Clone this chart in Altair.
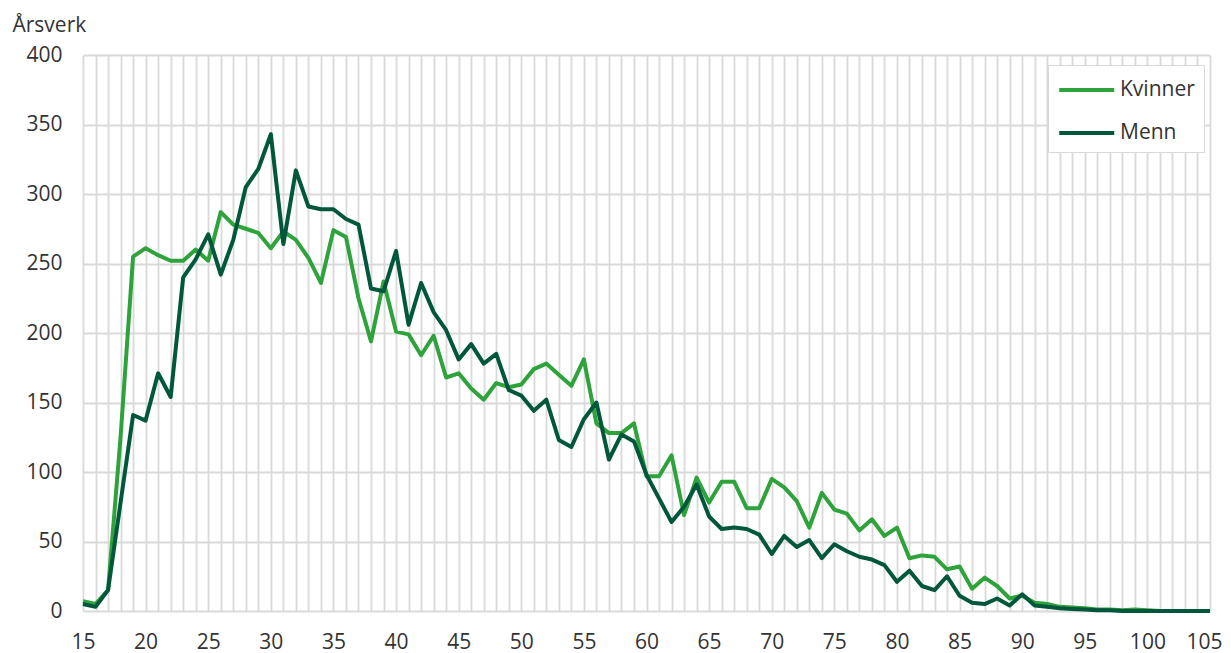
import altair as alt
import pandas as pd

ages = list(range(15, 106))

kvinner = [7, 5, 15, 125, 255, 261, 256, 252, 252, 260,
           252, 287, 278, 275, 272, 261, 273, 267, 254, 236,
           274, 269, 225, 194, 237, 201, 199, 184, 198, 168,
           171, 160, 152, 164, 161, 163, 174, 178, 170, 162,
           181, 135, 128, 128, 135, 97, 97, 112, 69, 96,
           78, 93, 93, 74, 74, 95, 89, 79, 60, 85,
           73, 70, 58, 66, 54, 60, 38, 40, 39, 30,
           32, 16, 24, 18, 9, 11, 6, 5, 3, 2.5,
           2, 1, 1, 0.5, 1, 0.5, 0, 0, 0, 0, 0]

menn = [5, 3, 15, 78, 141, 137, 171, 154, 240, 253,
        271, 242, 267, 305, 318, 343, 264, 317, 291, 289,
        289, 282, 278, 232, 230, 259, 206, 236, 215, 202,
        181, 192, 178, 185, 159, 155, 144, 152, 123, 118,
        138, 150, 109, 127, 122, 98, 81, 64, 75, 91,
        68, 59, 60, 59, 55, 41, 54, 46, 51, 38,
        48, 43, 39, 37, 33, 21, 29, 18, 15, 25,
        11, 6, 5, 9, 4, 12, 4, 3, 2, 1.5,
        1, 0.5, 0.5, 0, 0, 0, 0, 0, 0, 0, 0]

series = ["Kvinner", "Menn"]
colors = ["#2fa33b", "#00573c"]

df = pd.concat([
    pd.DataFrame({"Alder": ages, "Årsverk": kvinner, "Kjønn": "Kvinner", "ord": 0}),
    pd.DataFrame({"Alder": ages, "Årsverk": menn, "Kjønn": "Menn", "ord": 1}),
])

FONT = "Open Sans"
TXT = "#333333"
GRID = "#d9d9d9"
FS = 21

chart = alt.Chart(df).mark_line(strokeWidth=4, strokeJoin="round").encode(
    x=alt.X("Alder:Q",
            scale=alt.Scale(domain=[15, 105], nice=False, zero=False),
            axis=alt.Axis(values=ages, labelExpr="datum.value % 5 === 0 ? datum.label : ''",
                          title=None, grid=True, gridColor=GRID, gridWidth=1.8,
                          ticks=False, domain=False, labelPadding=20,
                          labelFontSize=FS, labelFont=FONT, labelColor=TXT,
                          labelFlush=True, labelFlushOffset=12, labelOverlap=False)),
    y=alt.Y("Årsverk:Q",
            scale=alt.Scale(domain=[0, 400], nice=False),
            axis=alt.Axis(values=[0, 50, 100, 150, 200, 250, 300, 350, 400],
                          title="Årsverk", titleAngle=0, titleAlign="left",
                          titleBaseline="alphabetic", titleX=-71, titleY=-23.5,
                          titleFont=FONT, titleFontSize=FS, titleFontWeight="normal",
                          titleColor=TXT,
                          grid=True, gridColor=GRID, gridWidth=1.8,
                          ticks=False, domain=False, labelPadding=21,
                          labelFontSize=FS, labelFont=FONT, labelColor=TXT)),
    color=alt.Color("Kjønn:N",
                    scale=alt.Scale(domain=series, range=colors),
                    legend=alt.Legend(title=None, orient="none", legendX=965, legendY=10,
                                      fillColor="white", strokeColor=GRID, padding=9,
                                      symbolType="M-1,0H3", symbolSize=756,
                                      symbolStrokeWidth=4, labelFontSize=FS,
                                      labelFont=FONT, labelColor=TXT, labelOffset=31,
                                      rowPadding=17, labelLimit=200)),
    order=alt.Order("ord:Q"),
).properties(
    width=1127, height=556,
    autosize=alt.AutoSizeParams(type="none"),
    padding={"left": 75, "top": 47, "right": 13, "bottom": 45},
).configure_view(stroke=None)

chart.save("out.html", embed_options={"renderer": "svg", "actions": False})
